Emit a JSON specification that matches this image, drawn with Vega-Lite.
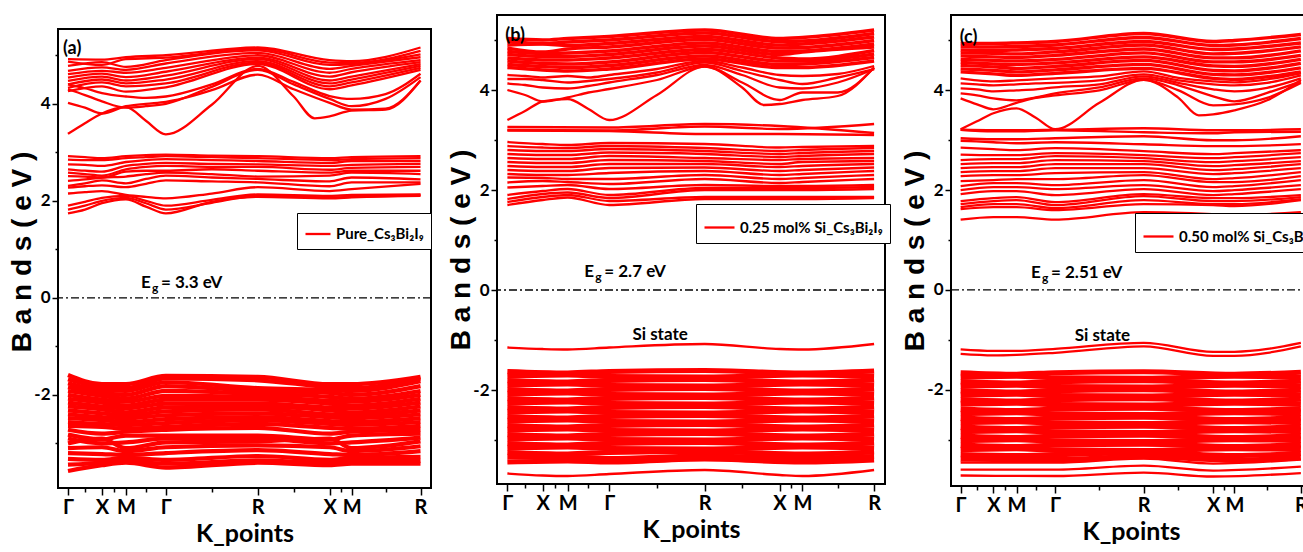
{"$schema":"https://vega.github.io/schema/vega-lite/v6.json","background":"white","padding":{"left":8,"top":14,"right":0,"bottom":0},"spacing":66,"bounds":"flush",
"config":{"view":{"stroke":"black","strokeWidth":2},"axis":{"grid":false,"domain":false,"tickColor":"black","tickWidth":1.5,"labelColor":"black","labelFont":"Lato","labelFontWeight":"bold","labelFontSize":17,"titleColor":"black","titleFontWeight":"bold","labelFlush":false,"labelOverlap":false},"text":{"font":"Lato","fontWeight":"bold","color":"black","baseline":"alphabetic"}},
"resolve":{"scale":{"color":"independent"},"legend":{"color":"independent"}},
"datasets":{
"a":[
{"b":1,"k":0,"e":4.92},{"b":1,"k":34,"e":4.91},{"b":1,"k":58,"e":4.96},{"b":1,"k":98,"e":5.0},{"b":1,"k":190,"e":5.16},{"b":1,"k":262,"e":4.9},{"b":1,"k":284,"e":4.88},{"b":1,"k":353,"e":5.16},
{"b":2,"k":0,"e":4.87},{"b":2,"k":34,"e":4.8},{"b":2,"k":58,"e":4.92},{"b":2,"k":98,"e":4.95},{"b":2,"k":190,"e":5.13},{"b":2,"k":262,"e":4.85},{"b":2,"k":284,"e":4.84},{"b":2,"k":353,"e":5.09},
{"b":3,"k":0,"e":4.78},{"b":3,"k":34,"e":4.86},{"b":3,"k":58,"e":4.76},{"b":3,"k":98,"e":4.9},{"b":3,"k":190,"e":5.1},{"b":3,"k":262,"e":4.8},{"b":3,"k":284,"e":4.82},{"b":3,"k":353,"e":5.02},
{"b":4,"k":0,"e":4.68},{"b":4,"k":34,"e":4.75},{"b":4,"k":58,"e":4.7},{"b":4,"k":98,"e":4.83},{"b":4,"k":190,"e":5.05},{"b":4,"k":262,"e":4.72},{"b":4,"k":284,"e":4.78},{"b":4,"k":353,"e":4.96},
{"b":5,"k":0,"e":4.61},{"b":5,"k":34,"e":4.68},{"b":5,"k":58,"e":4.64},{"b":5,"k":98,"e":4.74},{"b":5,"k":190,"e":5.0},{"b":5,"k":262,"e":4.64},{"b":5,"k":284,"e":4.72},{"b":5,"k":353,"e":4.9},
{"b":6,"k":0,"e":4.54},{"b":6,"k":34,"e":4.62},{"b":6,"k":58,"e":4.55},{"b":6,"k":98,"e":4.66},{"b":6,"k":190,"e":4.95},{"b":6,"k":262,"e":4.56},{"b":6,"k":284,"e":4.65},{"b":6,"k":353,"e":4.86},
{"b":7,"k":0,"e":4.47},{"b":7,"k":34,"e":4.56},{"b":7,"k":58,"e":4.48},{"b":7,"k":98,"e":4.58},{"b":7,"k":190,"e":4.92},{"b":7,"k":262,"e":4.48},{"b":7,"k":284,"e":4.56},{"b":7,"k":353,"e":4.82},
{"b":8,"k":0,"e":4.4},{"b":8,"k":34,"e":4.5},{"b":8,"k":58,"e":4.42},{"b":8,"k":98,"e":4.5},{"b":8,"k":190,"e":4.88},{"b":8,"k":262,"e":4.42},{"b":8,"k":284,"e":4.5},{"b":8,"k":353,"e":4.78},
{"b":9,"k":0,"e":4.33},{"b":9,"k":34,"e":4.44},{"b":9,"k":58,"e":4.36},{"b":9,"k":98,"e":4.42},{"b":9,"k":190,"e":4.85},{"b":9,"k":262,"e":4.36},{"b":9,"k":284,"e":4.44},{"b":9,"k":353,"e":4.74},
{"b":10,"k":0,"e":4.26},{"b":10,"k":34,"e":4.36},{"b":10,"k":58,"e":4.25},{"b":10,"k":98,"e":4.34},{"b":10,"k":190,"e":4.82},{"b":10,"k":262,"e":4.3},{"b":10,"k":284,"e":4.38},{"b":10,"k":353,"e":4.7},
{"b":11,"k":0,"e":3.38},{"b":11,"k":17,"e":3.6},{"b":11,"k":34,"e":3.8},{"b":11,"k":58,"e":3.93},{"b":11,"k":78,"e":3.65},{"b":11,"k":98,"e":3.37},{"b":11,"k":144,"e":3.98},{"b":11,"k":190,"e":4.78},{"b":11,"k":226,"e":4.15},{"b":11,"k":247,"e":3.7},{"b":11,"k":262,"e":3.74},{"b":11,"k":284,"e":3.86},{"b":11,"k":318,"e":3.88},{"b":11,"k":353,"e":4.48},
{"b":12,"k":0,"e":4.02},{"b":12,"k":17,"e":3.92},{"b":12,"k":34,"e":3.8},{"b":12,"k":58,"e":3.95},{"b":12,"k":78,"e":4.0},{"b":12,"k":98,"e":4.04},{"b":12,"k":144,"e":4.28},{"b":12,"k":190,"e":4.6},{"b":12,"k":226,"e":4.3},{"b":12,"k":262,"e":4.02},{"b":12,"k":284,"e":3.88},{"b":12,"k":318,"e":3.9},{"b":12,"k":353,"e":4.48},
{"b":13,"k":0,"e":4.3},{"b":13,"k":17,"e":4.18},{"b":13,"k":34,"e":4.05},{"b":13,"k":58,"e":3.92},{"b":13,"k":78,"e":3.95},{"b":13,"k":98,"e":4.0},{"b":13,"k":144,"e":4.35},{"b":13,"k":190,"e":4.7},{"b":13,"k":226,"e":4.4},{"b":13,"k":262,"e":4.1},{"b":13,"k":284,"e":3.95},{"b":13,"k":318,"e":4.1},{"b":13,"k":353,"e":4.55},
{"b":14,"k":0,"e":4.4},{"b":14,"k":17,"e":4.32},{"b":14,"k":34,"e":4.22},{"b":14,"k":58,"e":4.15},{"b":14,"k":78,"e":4.12},{"b":14,"k":98,"e":4.15},{"b":14,"k":144,"e":4.4},{"b":14,"k":190,"e":4.72},{"b":14,"k":226,"e":4.45},{"b":14,"k":262,"e":4.16},{"b":14,"k":284,"e":4.1},{"b":14,"k":318,"e":4.2},{"b":14,"k":353,"e":4.62},
{"b":21,"k":0,"e":1.74},{"b":21,"k":17,"e":1.82},{"b":21,"k":34,"e":1.95},{"b":21,"k":58,"e":2.03},{"b":21,"k":78,"e":1.88},{"b":21,"k":98,"e":1.74},{"b":21,"k":144,"e":1.98},{"b":21,"k":190,"e":2.08},{"b":21,"k":262,"e":2.05},{"b":21,"k":284,"e":2.07},{"b":21,"k":353,"e":2.12},
{"b":22,"k":0,"e":1.82},{"b":22,"k":17,"e":1.9},{"b":22,"k":34,"e":2.0},{"b":22,"k":58,"e":2.06},{"b":22,"k":78,"e":1.95},{"b":22,"k":98,"e":1.82},{"b":22,"k":144,"e":1.96},{"b":22,"k":190,"e":2.1},{"b":22,"k":262,"e":2.07},{"b":22,"k":284,"e":2.08},{"b":22,"k":353,"e":2.1},
{"b":23,"k":0,"e":1.9},{"b":23,"k":17,"e":1.98},{"b":23,"k":34,"e":2.06},{"b":23,"k":58,"e":2.1},{"b":23,"k":78,"e":2.0},{"b":23,"k":98,"e":1.9},{"b":23,"k":144,"e":2.02},{"b":23,"k":190,"e":2.13},{"b":23,"k":262,"e":2.1},{"b":23,"k":284,"e":2.12},{"b":23,"k":353,"e":2.13},
{"b":24,"k":0,"e":2.15},{"b":24,"k":17,"e":2.18},{"b":24,"k":34,"e":2.2},{"b":24,"k":58,"e":2.12},{"b":24,"k":78,"e":2.08},{"b":24,"k":98,"e":2.05},{"b":24,"k":144,"e":2.15},{"b":24,"k":190,"e":2.28},{"b":24,"k":262,"e":2.2},{"b":24,"k":284,"e":2.24},{"b":24,"k":353,"e":2.35},
{"b":25,"k":0,"e":2.27},{"b":25,"k":17,"e":2.3},{"b":25,"k":34,"e":2.32},{"b":25,"k":58,"e":2.28},{"b":25,"k":78,"e":2.35},{"b":25,"k":98,"e":2.42},{"b":25,"k":144,"e":2.4},{"b":25,"k":190,"e":2.38},{"b":25,"k":262,"e":2.3},{"b":25,"k":284,"e":2.38},{"b":25,"k":353,"e":2.38},
{"b":26,"k":0,"e":2.31},{"b":26,"k":17,"e":2.36},{"b":26,"k":34,"e":2.42},{"b":26,"k":58,"e":2.36},{"b":26,"k":78,"e":2.45},{"b":26,"k":98,"e":2.52},{"b":26,"k":144,"e":2.48},{"b":26,"k":190,"e":2.45},{"b":26,"k":262,"e":2.4},{"b":26,"k":284,"e":2.48},{"b":26,"k":353,"e":2.44},
{"b":27,"k":0,"e":2.41},{"b":27,"k":17,"e":2.44},{"b":27,"k":34,"e":2.48},{"b":27,"k":58,"e":2.5},{"b":27,"k":78,"e":2.55},{"b":27,"k":98,"e":2.58},{"b":27,"k":144,"e":2.55},{"b":27,"k":190,"e":2.5},{"b":27,"k":262,"e":2.52},{"b":27,"k":284,"e":2.58},{"b":27,"k":353,"e":2.55},
{"b":28,"k":0,"e":2.51},{"b":28,"k":17,"e":2.5},{"b":28,"k":34,"e":2.48},{"b":28,"k":58,"e":2.6},{"b":28,"k":78,"e":2.62},{"b":28,"k":98,"e":2.62},{"b":28,"k":144,"e":2.65},{"b":28,"k":190,"e":2.62},{"b":28,"k":262,"e":2.58},{"b":28,"k":284,"e":2.62},{"b":28,"k":353,"e":2.62},
{"b":29,"k":0,"e":2.58},{"b":29,"k":17,"e":2.55},{"b":29,"k":34,"e":2.52},{"b":29,"k":58,"e":2.65},{"b":29,"k":78,"e":2.7},{"b":29,"k":98,"e":2.72},{"b":29,"k":144,"e":2.7},{"b":29,"k":190,"e":2.7},{"b":29,"k":262,"e":2.64},{"b":29,"k":284,"e":2.68},{"b":29,"k":353,"e":2.7},
{"b":30,"k":0,"e":2.65},{"b":30,"k":17,"e":2.62},{"b":30,"k":34,"e":2.6},{"b":30,"k":58,"e":2.72},{"b":30,"k":78,"e":2.76},{"b":30,"k":98,"e":2.78},{"b":30,"k":144,"e":2.76},{"b":30,"k":190,"e":2.75},{"b":30,"k":262,"e":2.72},{"b":30,"k":284,"e":2.74},{"b":30,"k":353,"e":2.76},
{"b":31,"k":0,"e":2.75},{"b":31,"k":17,"e":2.74},{"b":31,"k":34,"e":2.72},{"b":31,"k":58,"e":2.8},{"b":31,"k":78,"e":2.84},{"b":31,"k":98,"e":2.86},{"b":31,"k":144,"e":2.84},{"b":31,"k":190,"e":2.82},{"b":31,"k":262,"e":2.78},{"b":31,"k":284,"e":2.82},{"b":31,"k":353,"e":2.82},
{"b":32,"k":0,"e":2.85},{"b":32,"k":17,"e":2.84},{"b":32,"k":34,"e":2.84},{"b":32,"k":58,"e":2.88},{"b":32,"k":78,"e":2.9},{"b":32,"k":98,"e":2.92},{"b":32,"k":144,"e":2.9},{"b":32,"k":190,"e":2.88},{"b":32,"k":262,"e":2.84},{"b":32,"k":284,"e":2.86},{"b":32,"k":353,"e":2.88},
{"b":33,"k":0,"e":2.92},{"b":33,"k":17,"e":2.9},{"b":33,"k":34,"e":2.88},{"b":33,"k":58,"e":2.92},{"b":33,"k":78,"e":2.94},{"b":33,"k":98,"e":2.95},{"b":33,"k":144,"e":2.93},{"b":33,"k":190,"e":2.92},{"b":33,"k":262,"e":2.88},{"b":33,"k":284,"e":2.9},{"b":33,"k":353,"e":2.92},
{"b":101,"k":0,"e":-1.59},{"b":101,"k":34,"e":-1.78},{"b":101,"k":58,"e":-1.78},{"b":101,"k":98,"e":-1.61},{"b":101,"k":190,"e":-1.63},{"b":101,"k":262,"e":-1.78},{"b":101,"k":284,"e":-1.78},{"b":101,"k":353,"e":-1.63},
{"b":102,"k":0,"e":-1.68},{"b":102,"k":34,"e":-1.84},{"b":102,"k":58,"e":-1.86},{"b":102,"k":98,"e":-1.66},{"b":102,"k":190,"e":-1.7},{"b":102,"k":262,"e":-1.84},{"b":102,"k":284,"e":-1.86},{"b":102,"k":353,"e":-1.66},
{"b":103,"k":0,"e":-1.76},{"b":103,"k":34,"e":-1.9},{"b":103,"k":58,"e":-1.92},{"b":103,"k":98,"e":-1.74},{"b":103,"k":190,"e":-1.86},{"b":103,"k":262,"e":-1.9},{"b":103,"k":284,"e":-1.92},{"b":103,"k":353,"e":-1.72},
{"b":104,"k":0,"e":-1.84},{"b":104,"k":34,"e":-1.96},{"b":104,"k":58,"e":-2.0},{"b":104,"k":98,"e":-1.82},{"b":104,"k":190,"e":-1.92},{"b":104,"k":262,"e":-1.96},{"b":104,"k":284,"e":-2.0},{"b":104,"k":353,"e":-1.82},
{"b":105,"k":0,"e":-1.92},{"b":105,"k":34,"e":-2.02},{"b":105,"k":58,"e":-2.08},{"b":105,"k":98,"e":-1.92},{"b":105,"k":190,"e":-1.98},{"b":105,"k":262,"e":-2.04},{"b":105,"k":284,"e":-2.08},{"b":105,"k":353,"e":-1.92},
{"b":106,"k":0,"e":-2.0},{"b":106,"k":34,"e":-2.1},{"b":106,"k":58,"e":-2.14},{"b":106,"k":98,"e":-2.02},{"b":106,"k":190,"e":-2.04},{"b":106,"k":262,"e":-2.12},{"b":106,"k":284,"e":-2.14},{"b":106,"k":353,"e":-2.0},
{"b":107,"k":0,"e":-2.08},{"b":107,"k":34,"e":-2.16},{"b":107,"k":58,"e":-2.22},{"b":107,"k":98,"e":-2.1},{"b":107,"k":190,"e":-2.1},{"b":107,"k":262,"e":-2.18},{"b":107,"k":284,"e":-2.22},{"b":107,"k":353,"e":-2.08},
{"b":108,"k":0,"e":-2.16},{"b":108,"k":34,"e":-2.24},{"b":108,"k":58,"e":-2.28},{"b":108,"k":98,"e":-2.18},{"b":108,"k":190,"e":-2.18},{"b":108,"k":262,"e":-2.26},{"b":108,"k":284,"e":-2.28},{"b":108,"k":353,"e":-2.16},
{"b":109,"k":0,"e":-2.24},{"b":109,"k":34,"e":-2.3},{"b":109,"k":58,"e":-2.36},{"b":109,"k":98,"e":-2.26},{"b":109,"k":190,"e":-2.24},{"b":109,"k":262,"e":-2.32},{"b":109,"k":284,"e":-2.36},{"b":109,"k":353,"e":-2.24},
{"b":110,"k":0,"e":-2.32},{"b":110,"k":34,"e":-2.38},{"b":110,"k":58,"e":-2.42},{"b":110,"k":98,"e":-2.34},{"b":110,"k":190,"e":-2.3},{"b":110,"k":262,"e":-2.4},{"b":110,"k":284,"e":-2.42},{"b":110,"k":353,"e":-2.32},
{"b":111,"k":0,"e":-2.4},{"b":111,"k":34,"e":-2.46},{"b":111,"k":58,"e":-2.48},{"b":111,"k":98,"e":-2.42},{"b":111,"k":190,"e":-2.38},{"b":111,"k":262,"e":-2.46},{"b":111,"k":284,"e":-2.48},{"b":111,"k":353,"e":-2.4},
{"b":112,"k":0,"e":-2.48},{"b":112,"k":34,"e":-2.52},{"b":112,"k":58,"e":-2.56},{"b":112,"k":98,"e":-2.5},{"b":112,"k":190,"e":-2.46},{"b":112,"k":262,"e":-2.54},{"b":112,"k":284,"e":-2.56},{"b":112,"k":353,"e":-2.48},
{"b":113,"k":0,"e":-2.56},{"b":113,"k":34,"e":-2.6},{"b":113,"k":58,"e":-2.62},{"b":113,"k":98,"e":-2.58},{"b":113,"k":190,"e":-2.52},{"b":113,"k":262,"e":-2.6},{"b":113,"k":284,"e":-2.62},{"b":113,"k":353,"e":-2.56},
{"b":114,"k":0,"e":-2.64},{"b":114,"k":34,"e":-2.66},{"b":114,"k":58,"e":-2.7},{"b":114,"k":98,"e":-2.66},{"b":114,"k":190,"e":-2.6},{"b":114,"k":262,"e":-2.68},{"b":114,"k":284,"e":-2.7},{"b":114,"k":353,"e":-2.64},
{"b":115,"k":0,"e":-2.72},{"b":115,"k":34,"e":-2.8},{"b":115,"k":58,"e":-2.76},{"b":115,"k":98,"e":-2.72},{"b":115,"k":190,"e":-2.68},{"b":115,"k":262,"e":-2.8},{"b":115,"k":284,"e":-2.76},{"b":115,"k":353,"e":-2.72},
{"b":116,"k":0,"e":-2.82},{"b":116,"k":34,"e":-2.92},{"b":116,"k":58,"e":-2.84},{"b":116,"k":98,"e":-2.84},{"b":116,"k":190,"e":-2.84},{"b":116,"k":262,"e":-2.92},{"b":116,"k":284,"e":-2.84},{"b":116,"k":353,"e":-2.8},
{"b":117,"k":0,"e":-2.9},{"b":117,"k":34,"e":-3.0},{"b":117,"k":58,"e":-2.98},{"b":117,"k":98,"e":-2.9},{"b":117,"k":190,"e":-2.9},{"b":117,"k":262,"e":-3.0},{"b":117,"k":284,"e":-2.98},{"b":117,"k":353,"e":-2.88},
{"b":118,"k":0,"e":-3.0},{"b":118,"k":34,"e":-2.9},{"b":118,"k":58,"e":-3.1},{"b":118,"k":98,"e":-2.98},{"b":118,"k":190,"e":-2.96},{"b":118,"k":262,"e":-2.9},{"b":118,"k":284,"e":-3.1},{"b":118,"k":353,"e":-2.96},
{"b":119,"k":0,"e":-3.1},{"b":119,"k":34,"e":-3.08},{"b":119,"k":58,"e":-3.16},{"b":119,"k":98,"e":-3.08},{"b":119,"k":190,"e":-3.04},{"b":119,"k":262,"e":-3.08},{"b":119,"k":284,"e":-3.16},{"b":119,"k":353,"e":-3.06},
{"b":120,"k":0,"e":-3.2},{"b":120,"k":34,"e":-3.22},{"b":120,"k":58,"e":-3.24},{"b":120,"k":98,"e":-3.2},{"b":120,"k":190,"e":-3.14},{"b":120,"k":262,"e":-3.22},{"b":120,"k":284,"e":-3.24},{"b":120,"k":353,"e":-3.16},
{"b":121,"k":0,"e":-3.32},{"b":121,"k":34,"e":-3.34},{"b":121,"k":58,"e":-3.3},{"b":121,"k":98,"e":-3.34},{"b":121,"k":190,"e":-3.26},{"b":121,"k":262,"e":-3.34},{"b":121,"k":284,"e":-3.3},{"b":121,"k":353,"e":-3.28},
{"b":122,"k":0,"e":-3.44},{"b":122,"k":34,"e":-3.4},{"b":122,"k":58,"e":-3.36},{"b":122,"k":98,"e":-3.42},{"b":122,"k":190,"e":-3.35},{"b":122,"k":262,"e":-3.4},{"b":122,"k":284,"e":-3.36},{"b":122,"k":353,"e":-3.36},
{"b":123,"k":0,"e":-3.57},{"b":123,"k":34,"e":-3.45},{"b":123,"k":58,"e":-3.4},{"b":123,"k":98,"e":-3.5},{"b":123,"k":190,"e":-3.4},{"b":123,"k":262,"e":-3.45},{"b":123,"k":284,"e":-3.42},{"b":123,"k":353,"e":-3.42}
],
"b":[
{"b":1,"k":0,"e":5.03},{"b":1,"k":34,"e":5.0},{"b":1,"k":58,"e":5.03},{"b":1,"k":98,"e":5.07},{"b":1,"k":190,"e":5.2},{"b":1,"k":262,"e":5.03},{"b":1,"k":284,"e":5.05},{"b":1,"k":353,"e":5.2},
{"b":2,"k":0,"e":4.97},{"b":2,"k":34,"e":4.93},{"b":2,"k":58,"e":4.96},{"b":2,"k":98,"e":5.0},{"b":2,"k":190,"e":5.14},{"b":2,"k":262,"e":4.97},{"b":2,"k":284,"e":4.98},{"b":2,"k":353,"e":5.13},
{"b":3,"k":0,"e":4.9},{"b":3,"k":34,"e":4.92},{"b":3,"k":58,"e":4.89},{"b":3,"k":98,"e":4.93},{"b":3,"k":190,"e":5.07},{"b":3,"k":262,"e":4.9},{"b":3,"k":284,"e":4.92},{"b":3,"k":353,"e":5.06},
{"b":4,"k":0,"e":4.84},{"b":4,"k":34,"e":4.76},{"b":4,"k":58,"e":4.82},{"b":4,"k":98,"e":4.86},{"b":4,"k":190,"e":5.01},{"b":4,"k":262,"e":4.84},{"b":4,"k":284,"e":4.85},{"b":4,"k":353,"e":4.99},
{"b":5,"k":0,"e":4.77},{"b":5,"k":34,"e":4.73},{"b":5,"k":58,"e":4.74},{"b":5,"k":98,"e":4.78},{"b":5,"k":190,"e":4.94},{"b":5,"k":262,"e":4.77},{"b":5,"k":284,"e":4.78},{"b":5,"k":353,"e":4.92},
{"b":6,"k":0,"e":4.71},{"b":6,"k":34,"e":4.67},{"b":6,"k":58,"e":4.67},{"b":6,"k":98,"e":4.71},{"b":6,"k":190,"e":4.88},{"b":6,"k":262,"e":4.71},{"b":6,"k":284,"e":4.76},{"b":6,"k":353,"e":4.86},
{"b":7,"k":0,"e":4.64},{"b":7,"k":34,"e":4.6},{"b":7,"k":58,"e":4.6},{"b":7,"k":98,"e":4.64},{"b":7,"k":190,"e":4.81},{"b":7,"k":262,"e":4.64},{"b":7,"k":284,"e":4.62},{"b":7,"k":353,"e":4.79},
{"b":8,"k":0,"e":4.58},{"b":8,"k":34,"e":4.53},{"b":8,"k":58,"e":4.52},{"b":8,"k":98,"e":4.56},{"b":8,"k":190,"e":4.75},{"b":8,"k":262,"e":4.58},{"b":8,"k":284,"e":4.58},{"b":8,"k":353,"e":4.72},
{"b":9,"k":0,"e":4.51},{"b":9,"k":34,"e":4.47},{"b":9,"k":58,"e":4.45},{"b":9,"k":98,"e":4.49},{"b":9,"k":190,"e":4.68},{"b":9,"k":262,"e":4.51},{"b":9,"k":284,"e":4.52},{"b":9,"k":353,"e":4.65},
{"b":10,"k":0,"e":4.45},{"b":10,"k":34,"e":4.4},{"b":10,"k":58,"e":4.38},{"b":10,"k":98,"e":4.42},{"b":10,"k":190,"e":4.62},{"b":10,"k":262,"e":4.45},{"b":10,"k":284,"e":4.45},{"b":10,"k":353,"e":4.58},
{"b":11,"k":0,"e":3.4},{"b":11,"k":17,"e":3.58},{"b":11,"k":34,"e":3.77},{"b":11,"k":58,"e":3.82},{"b":11,"k":78,"e":3.62},{"b":11,"k":98,"e":3.4},{"b":11,"k":144,"e":3.9},{"b":11,"k":190,"e":4.47},{"b":11,"k":226,"e":4.05},{"b":11,"k":247,"e":3.7},{"b":11,"k":262,"e":3.72},{"b":11,"k":284,"e":3.8},{"b":11,"k":318,"e":3.88},{"b":11,"k":353,"e":4.45},
{"b":12,"k":0,"e":4.0},{"b":12,"k":17,"e":3.9},{"b":12,"k":34,"e":3.77},{"b":12,"k":58,"e":3.85},{"b":12,"k":78,"e":3.95},{"b":12,"k":98,"e":4.02},{"b":12,"k":144,"e":4.2},{"b":12,"k":190,"e":4.47},{"b":12,"k":226,"e":4.15},{"b":12,"k":262,"e":3.8},{"b":12,"k":284,"e":3.95},{"b":12,"k":318,"e":3.95},{"b":12,"k":353,"e":4.45},
{"b":13,"k":0,"e":4.13},{"b":13,"k":17,"e":4.1},{"b":13,"k":34,"e":4.05},{"b":13,"k":58,"e":4.03},{"b":13,"k":78,"e":4.08},{"b":13,"k":98,"e":4.15},{"b":13,"k":144,"e":4.3},{"b":13,"k":190,"e":4.5},{"b":13,"k":226,"e":4.3},{"b":13,"k":262,"e":4.05},{"b":13,"k":284,"e":4.03},{"b":13,"k":318,"e":4.15},{"b":13,"k":353,"e":4.42},
{"b":14,"k":0,"e":4.22},{"b":14,"k":17,"e":4.22},{"b":14,"k":34,"e":4.2},{"b":14,"k":58,"e":4.15},{"b":14,"k":78,"e":4.18},{"b":14,"k":98,"e":4.22},{"b":14,"k":144,"e":4.35},{"b":14,"k":190,"e":4.55},{"b":14,"k":226,"e":4.38},{"b":14,"k":262,"e":4.2},{"b":14,"k":284,"e":4.12},{"b":14,"k":318,"e":4.25},{"b":14,"k":353,"e":4.42},
{"b":15,"k":0,"e":4.3},{"b":15,"k":17,"e":4.28},{"b":15,"k":34,"e":4.25},{"b":15,"k":58,"e":4.28},{"b":15,"k":78,"e":4.25},{"b":15,"k":98,"e":4.3},{"b":15,"k":144,"e":4.42},{"b":15,"k":190,"e":4.58},{"b":15,"k":226,"e":4.45},{"b":15,"k":262,"e":4.3},{"b":15,"k":284,"e":4.28},{"b":15,"k":318,"e":4.32},{"b":15,"k":353,"e":4.48},
{"b":16,"k":0,"e":3.26},{"b":16,"k":98,"e":3.25},{"b":16,"k":190,"e":3.32},{"b":16,"k":262,"e":3.28},{"b":16,"k":353,"e":3.14},
{"b":17,"k":0,"e":3.2},{"b":17,"k":98,"e":3.19},{"b":17,"k":190,"e":3.27},{"b":17,"k":262,"e":3.22},{"b":17,"k":353,"e":3.32},
{"b":18,"k":0,"e":3.19},{"b":18,"k":98,"e":3.18},{"b":18,"k":190,"e":3.12},{"b":18,"k":262,"e":3.12},{"b":18,"k":353,"e":3.1},
{"b":21,"k":0,"e":1.7},{"b":21,"k":34,"e":1.8},{"b":21,"k":58,"e":1.85},{"b":21,"k":98,"e":1.7},{"b":21,"k":190,"e":1.82},{"b":21,"k":262,"e":1.82},{"b":21,"k":284,"e":1.82},{"b":21,"k":353,"e":1.84},
{"b":22,"k":0,"e":1.76},{"b":22,"k":34,"e":1.86},{"b":22,"k":58,"e":1.9},{"b":22,"k":98,"e":1.78},{"b":22,"k":190,"e":1.86},{"b":22,"k":262,"e":1.86},{"b":22,"k":284,"e":1.86},{"b":22,"k":353,"e":1.86},
{"b":23,"k":0,"e":1.82},{"b":23,"k":34,"e":1.92},{"b":23,"k":58,"e":1.95},{"b":23,"k":98,"e":1.84},{"b":23,"k":190,"e":2.0},{"b":23,"k":262,"e":2.0},{"b":23,"k":284,"e":2.0},{"b":23,"k":353,"e":2.02},
{"b":24,"k":0,"e":1.9},{"b":24,"k":34,"e":1.98},{"b":24,"k":58,"e":2.02},{"b":24,"k":98,"e":1.9},{"b":24,"k":190,"e":2.04},{"b":24,"k":262,"e":2.04},{"b":24,"k":284,"e":2.04},{"b":24,"k":353,"e":2.06},
{"b":25,"k":0,"e":2.05},{"b":25,"k":34,"e":2.08},{"b":25,"k":58,"e":2.1},{"b":25,"k":98,"e":2.02},{"b":25,"k":190,"e":2.1},{"b":25,"k":262,"e":2.08},{"b":25,"k":284,"e":2.08},{"b":25,"k":353,"e":2.1},
{"b":26,"k":0,"e":2.15},{"b":26,"k":34,"e":2.18},{"b":26,"k":58,"e":2.16},{"b":26,"k":98,"e":2.12},{"b":26,"k":190,"e":2.22},{"b":26,"k":262,"e":2.14},{"b":26,"k":284,"e":2.16},{"b":26,"k":353,"e":2.22},
{"b":27,"k":0,"e":2.25},{"b":27,"k":34,"e":2.24},{"b":27,"k":58,"e":2.22},{"b":27,"k":98,"e":2.22},{"b":27,"k":190,"e":2.3},{"b":27,"k":262,"e":2.22},{"b":27,"k":284,"e":2.24},{"b":27,"k":353,"e":2.3},
{"b":28,"k":0,"e":2.32},{"b":28,"k":34,"e":2.3},{"b":28,"k":58,"e":2.3},{"b":28,"k":98,"e":2.34},{"b":28,"k":190,"e":2.38},{"b":28,"k":262,"e":2.3},{"b":28,"k":284,"e":2.32},{"b":28,"k":353,"e":2.38},
{"b":29,"k":0,"e":2.4},{"b":29,"k":34,"e":2.38},{"b":29,"k":58,"e":2.38},{"b":29,"k":98,"e":2.44},{"b":29,"k":190,"e":2.45},{"b":29,"k":262,"e":2.38},{"b":29,"k":284,"e":2.4},{"b":29,"k":353,"e":2.45},
{"b":30,"k":0,"e":2.48},{"b":30,"k":34,"e":2.46},{"b":30,"k":58,"e":2.46},{"b":30,"k":98,"e":2.52},{"b":30,"k":190,"e":2.52},{"b":30,"k":262,"e":2.46},{"b":30,"k":284,"e":2.48},{"b":30,"k":353,"e":2.52},
{"b":31,"k":0,"e":2.56},{"b":31,"k":34,"e":2.54},{"b":31,"k":58,"e":2.54},{"b":31,"k":98,"e":2.6},{"b":31,"k":190,"e":2.58},{"b":31,"k":262,"e":2.52},{"b":31,"k":284,"e":2.56},{"b":31,"k":353,"e":2.58},
{"b":32,"k":0,"e":2.64},{"b":32,"k":34,"e":2.62},{"b":32,"k":58,"e":2.62},{"b":32,"k":98,"e":2.68},{"b":32,"k":190,"e":2.64},{"b":32,"k":262,"e":2.6},{"b":32,"k":284,"e":2.62},{"b":32,"k":353,"e":2.64},
{"b":33,"k":0,"e":2.72},{"b":33,"k":34,"e":2.7},{"b":33,"k":58,"e":2.7},{"b":33,"k":98,"e":2.75},{"b":33,"k":190,"e":2.72},{"b":33,"k":262,"e":2.66},{"b":33,"k":284,"e":2.68},{"b":33,"k":353,"e":2.72},
{"b":34,"k":0,"e":2.8},{"b":34,"k":34,"e":2.78},{"b":34,"k":58,"e":2.78},{"b":34,"k":98,"e":2.82},{"b":34,"k":190,"e":2.78},{"b":34,"k":262,"e":2.72},{"b":34,"k":284,"e":2.74},{"b":34,"k":353,"e":2.78},
{"b":35,"k":0,"e":2.88},{"b":35,"k":34,"e":2.85},{"b":35,"k":58,"e":2.84},{"b":35,"k":98,"e":2.88},{"b":35,"k":190,"e":2.84},{"b":35,"k":262,"e":2.78},{"b":35,"k":284,"e":2.8},{"b":35,"k":353,"e":2.84},
{"b":36,"k":0,"e":2.96},{"b":36,"k":34,"e":2.92},{"b":36,"k":58,"e":2.9},{"b":36,"k":98,"e":2.94},{"b":36,"k":190,"e":2.92},{"b":36,"k":262,"e":2.85},{"b":36,"k":284,"e":2.86},{"b":36,"k":353,"e":2.88},
{"b":40,"k":0,"e":-1.15},{"b":40,"k":34,"e":-1.18},{"b":40,"k":58,"e":-1.19},{"b":40,"k":98,"e":-1.15},{"b":40,"k":190,"e":-1.08},{"b":40,"k":262,"e":-1.18},{"b":40,"k":284,"e":-1.19},{"b":40,"k":353,"e":-1.08},
{"b":41,"k":0,"e":-3.67},{"b":41,"k":34,"e":-3.71},{"b":41,"k":58,"e":-3.72},{"b":41,"k":98,"e":-3.68},{"b":41,"k":190,"e":-3.6},{"b":41,"k":262,"e":-3.7},{"b":41,"k":284,"e":-3.72},{"b":41,"k":353,"e":-3.6},
{"b":101,"k":0,"e":-1.63},{"b":101,"k":58,"e":-1.66},{"b":101,"k":98,"e":-1.63},{"b":101,"k":190,"e":-1.61},{"b":101,"k":284,"e":-1.66},{"b":101,"k":353,"e":-1.62},
{"b":102,"k":0,"e":-1.72},{"b":102,"k":58,"e":-1.7},{"b":102,"k":98,"e":-1.73},{"b":102,"k":190,"e":-1.74},{"b":102,"k":284,"e":-1.7},{"b":102,"k":353,"e":-1.72},
{"b":103,"k":0,"e":-1.81},{"b":103,"k":58,"e":-1.84},{"b":103,"k":98,"e":-1.81},{"b":103,"k":190,"e":-1.79},{"b":103,"k":284,"e":-1.84},{"b":103,"k":353,"e":-1.8},
{"b":104,"k":0,"e":-1.9},{"b":104,"k":58,"e":-1.88},{"b":104,"k":98,"e":-1.91},{"b":104,"k":190,"e":-1.92},{"b":104,"k":284,"e":-1.88},{"b":104,"k":353,"e":-1.9},
{"b":105,"k":0,"e":-1.99},{"b":105,"k":58,"e":-2.02},{"b":105,"k":98,"e":-1.99},{"b":105,"k":190,"e":-1.97},{"b":105,"k":284,"e":-2.02},{"b":105,"k":353,"e":-1.98},
{"b":106,"k":0,"e":-2.08},{"b":106,"k":58,"e":-2.06},{"b":106,"k":98,"e":-2.09},{"b":106,"k":190,"e":-2.1},{"b":106,"k":284,"e":-2.06},{"b":106,"k":353,"e":-2.08},
{"b":107,"k":0,"e":-2.17},{"b":107,"k":58,"e":-2.2},{"b":107,"k":98,"e":-2.17},{"b":107,"k":190,"e":-2.15},{"b":107,"k":284,"e":-2.2},{"b":107,"k":353,"e":-2.16},
{"b":108,"k":0,"e":-2.26},{"b":108,"k":58,"e":-2.24},{"b":108,"k":98,"e":-2.27},{"b":108,"k":190,"e":-2.28},{"b":108,"k":284,"e":-2.24},{"b":108,"k":353,"e":-2.26},
{"b":109,"k":0,"e":-2.35},{"b":109,"k":58,"e":-2.38},{"b":109,"k":98,"e":-2.35},{"b":109,"k":190,"e":-2.33},{"b":109,"k":284,"e":-2.38},{"b":109,"k":353,"e":-2.34},
{"b":110,"k":0,"e":-2.44},{"b":110,"k":58,"e":-2.42},{"b":110,"k":98,"e":-2.45},{"b":110,"k":190,"e":-2.46},{"b":110,"k":284,"e":-2.42},{"b":110,"k":353,"e":-2.44},
{"b":111,"k":0,"e":-2.53},{"b":111,"k":58,"e":-2.56},{"b":111,"k":98,"e":-2.53},{"b":111,"k":190,"e":-2.51},{"b":111,"k":284,"e":-2.56},{"b":111,"k":353,"e":-2.52},
{"b":112,"k":0,"e":-2.62},{"b":112,"k":58,"e":-2.6},{"b":112,"k":98,"e":-2.63},{"b":112,"k":190,"e":-2.64},{"b":112,"k":284,"e":-2.6},{"b":112,"k":353,"e":-2.62},
{"b":113,"k":0,"e":-2.71},{"b":113,"k":58,"e":-2.74},{"b":113,"k":98,"e":-2.71},{"b":113,"k":190,"e":-2.69},{"b":113,"k":284,"e":-2.74},{"b":113,"k":353,"e":-2.7},
{"b":114,"k":0,"e":-2.8},{"b":114,"k":58,"e":-2.78},{"b":114,"k":98,"e":-2.81},{"b":114,"k":190,"e":-2.82},{"b":114,"k":284,"e":-2.78},{"b":114,"k":353,"e":-2.8},
{"b":115,"k":0,"e":-2.89},{"b":115,"k":58,"e":-2.92},{"b":115,"k":98,"e":-2.89},{"b":115,"k":190,"e":-2.87},{"b":115,"k":284,"e":-2.92},{"b":115,"k":353,"e":-2.88},
{"b":116,"k":0,"e":-2.98},{"b":116,"k":58,"e":-2.96},{"b":116,"k":98,"e":-2.99},{"b":116,"k":190,"e":-3.0},{"b":116,"k":284,"e":-2.96},{"b":116,"k":353,"e":-2.98},
{"b":117,"k":0,"e":-3.07},{"b":117,"k":58,"e":-3.1},{"b":117,"k":98,"e":-3.07},{"b":117,"k":190,"e":-3.05},{"b":117,"k":284,"e":-3.1},{"b":117,"k":353,"e":-3.06},
{"b":118,"k":0,"e":-3.16},{"b":118,"k":58,"e":-3.14},{"b":118,"k":98,"e":-3.17},{"b":118,"k":190,"e":-3.18},{"b":118,"k":284,"e":-3.14},{"b":118,"k":353,"e":-3.16},
{"b":119,"k":0,"e":-3.25},{"b":119,"k":58,"e":-3.28},{"b":119,"k":98,"e":-3.25},{"b":119,"k":190,"e":-3.23},{"b":119,"k":284,"e":-3.28},{"b":119,"k":353,"e":-3.24},
{"b":120,"k":0,"e":-3.34},{"b":120,"k":58,"e":-3.34},{"b":120,"k":98,"e":-3.37},{"b":120,"k":190,"e":-3.32},{"b":120,"k":284,"e":-3.36},{"b":120,"k":353,"e":-3.33},
{"b":121,"k":0,"e":-3.44},{"b":121,"k":58,"e":-3.42},{"b":121,"k":98,"e":-3.44},{"b":121,"k":190,"e":-3.38},{"b":121,"k":284,"e":-3.44},{"b":121,"k":353,"e":-3.4}
],
"c":[
{"b":1,"k":0,"e":4.94},{"b":1,"k":34,"e":4.94},{"b":1,"k":58,"e":4.95},{"b":1,"k":98,"e":4.98},{"b":1,"k":190,"e":5.14},{"b":1,"k":262,"e":4.98},{"b":1,"k":284,"e":5.0},{"b":1,"k":353,"e":5.12},
{"b":2,"k":0,"e":4.88},{"b":2,"k":34,"e":4.87},{"b":2,"k":58,"e":4.88},{"b":2,"k":98,"e":4.91},{"b":2,"k":190,"e":5.06},{"b":2,"k":262,"e":4.9},{"b":2,"k":284,"e":4.91},{"b":2,"k":353,"e":5.04},
{"b":3,"k":0,"e":4.81},{"b":3,"k":34,"e":4.8},{"b":3,"k":58,"e":4.81},{"b":3,"k":98,"e":4.84},{"b":3,"k":190,"e":4.98},{"b":3,"k":262,"e":4.82},{"b":3,"k":284,"e":4.83},{"b":3,"k":353,"e":4.95},
{"b":4,"k":0,"e":4.75},{"b":4,"k":34,"e":4.74},{"b":4,"k":58,"e":4.73},{"b":4,"k":98,"e":4.77},{"b":4,"k":190,"e":4.91},{"b":4,"k":262,"e":4.73},{"b":4,"k":284,"e":4.74},{"b":4,"k":353,"e":4.87},
{"b":5,"k":0,"e":4.69},{"b":5,"k":34,"e":4.67},{"b":5,"k":58,"e":4.66},{"b":5,"k":98,"e":4.7},{"b":5,"k":190,"e":4.83},{"b":5,"k":262,"e":4.65},{"b":5,"k":284,"e":4.65},{"b":5,"k":353,"e":4.79},
{"b":6,"k":0,"e":4.62},{"b":6,"k":34,"e":4.6},{"b":6,"k":58,"e":4.59},{"b":6,"k":98,"e":4.62},{"b":6,"k":190,"e":4.75},{"b":6,"k":262,"e":4.57},{"b":6,"k":284,"e":4.57},{"b":6,"k":353,"e":4.7},
{"b":7,"k":0,"e":4.56},{"b":7,"k":34,"e":4.53},{"b":7,"k":58,"e":4.52},{"b":7,"k":98,"e":4.55},{"b":7,"k":190,"e":4.67},{"b":7,"k":262,"e":4.49},{"b":7,"k":284,"e":4.48},{"b":7,"k":353,"e":4.62},
{"b":8,"k":0,"e":4.5},{"b":8,"k":34,"e":4.47},{"b":8,"k":58,"e":4.44},{"b":8,"k":98,"e":4.48},{"b":8,"k":190,"e":4.6},{"b":8,"k":262,"e":4.4},{"b":8,"k":284,"e":4.39},{"b":8,"k":353,"e":4.54},
{"b":9,"k":0,"e":4.43},{"b":9,"k":34,"e":4.4},{"b":9,"k":58,"e":4.37},{"b":9,"k":98,"e":4.41},{"b":9,"k":190,"e":4.52},{"b":9,"k":262,"e":4.32},{"b":9,"k":284,"e":4.31},{"b":9,"k":353,"e":4.45},
{"b":10,"k":0,"e":4.37},{"b":10,"k":34,"e":4.33},{"b":10,"k":58,"e":4.3},{"b":10,"k":98,"e":4.34},{"b":10,"k":190,"e":4.44},{"b":10,"k":262,"e":4.24},{"b":10,"k":284,"e":4.22},{"b":10,"k":353,"e":4.37},
{"b":11,"k":0,"e":3.22},{"b":11,"k":17,"e":3.38},{"b":11,"k":34,"e":3.54},{"b":11,"k":58,"e":3.64},{"b":11,"k":78,"e":3.45},{"b":11,"k":98,"e":3.22},{"b":11,"k":144,"e":3.75},{"b":11,"k":190,"e":4.21},{"b":11,"k":226,"e":3.85},{"b":11,"k":247,"e":3.5},{"b":11,"k":262,"e":3.52},{"b":11,"k":284,"e":3.6},{"b":11,"k":318,"e":3.8},{"b":11,"k":353,"e":4.21},
{"b":12,"k":0,"e":3.84},{"b":12,"k":17,"e":3.72},{"b":12,"k":34,"e":3.62},{"b":12,"k":58,"e":3.75},{"b":12,"k":78,"e":3.85},{"b":12,"k":98,"e":3.9},{"b":12,"k":144,"e":4.0},{"b":12,"k":190,"e":4.21},{"b":12,"k":226,"e":4.0},{"b":12,"k":262,"e":3.7},{"b":12,"k":284,"e":3.72},{"b":12,"k":318,"e":3.85},{"b":12,"k":353,"e":4.15},
{"b":13,"k":0,"e":3.94},{"b":13,"k":17,"e":3.9},{"b":13,"k":34,"e":3.84},{"b":13,"k":58,"e":3.8},{"b":13,"k":78,"e":3.86},{"b":13,"k":98,"e":3.94},{"b":13,"k":144,"e":4.06},{"b":13,"k":190,"e":4.24},{"b":13,"k":226,"e":4.1},{"b":13,"k":262,"e":3.88},{"b":13,"k":284,"e":3.78},{"b":13,"k":318,"e":3.95},{"b":13,"k":353,"e":4.18},
{"b":14,"k":0,"e":4.04},{"b":14,"k":17,"e":4.02},{"b":14,"k":34,"e":3.98},{"b":14,"k":58,"e":4.0},{"b":14,"k":78,"e":4.02},{"b":14,"k":98,"e":4.06},{"b":14,"k":144,"e":4.12},{"b":14,"k":190,"e":4.28},{"b":14,"k":226,"e":4.15},{"b":14,"k":262,"e":4.02},{"b":14,"k":284,"e":3.98},{"b":14,"k":318,"e":4.05},{"b":14,"k":353,"e":4.24},
{"b":15,"k":0,"e":4.14},{"b":15,"k":17,"e":4.12},{"b":15,"k":34,"e":4.1},{"b":15,"k":58,"e":4.12},{"b":15,"k":78,"e":4.14},{"b":15,"k":98,"e":4.15},{"b":15,"k":144,"e":4.2},{"b":15,"k":190,"e":4.32},{"b":15,"k":226,"e":4.2},{"b":15,"k":262,"e":4.12},{"b":15,"k":284,"e":4.1},{"b":15,"k":318,"e":4.15},{"b":15,"k":353,"e":4.3},
{"b":16,"k":0,"e":4.24},{"b":16,"k":17,"e":4.2},{"b":16,"k":34,"e":4.18},{"b":16,"k":58,"e":4.2},{"b":16,"k":78,"e":4.22},{"b":16,"k":98,"e":4.24},{"b":16,"k":144,"e":4.28},{"b":16,"k":190,"e":4.38},{"b":16,"k":226,"e":4.25},{"b":16,"k":262,"e":4.18},{"b":16,"k":284,"e":4.16},{"b":16,"k":318,"e":4.22},{"b":16,"k":353,"e":4.34},
{"b":20,"k":0,"e":1.41},{"b":20,"k":34,"e":1.46},{"b":20,"k":58,"e":1.46},{"b":20,"k":98,"e":1.41},{"b":20,"k":190,"e":1.56},{"b":20,"k":262,"e":1.52},{"b":20,"k":284,"e":1.5},{"b":20,"k":353,"e":1.56},
{"b":21,"k":0,"e":1.62},{"b":21,"k":34,"e":1.66},{"b":21,"k":58,"e":1.66},{"b":21,"k":98,"e":1.6},{"b":21,"k":190,"e":1.72},{"b":21,"k":262,"e":1.7},{"b":21,"k":284,"e":1.68},{"b":21,"k":353,"e":1.8},
{"b":22,"k":0,"e":1.66},{"b":22,"k":34,"e":1.72},{"b":22,"k":58,"e":1.72},{"b":22,"k":98,"e":1.64},{"b":22,"k":190,"e":1.8},{"b":22,"k":262,"e":1.72},{"b":22,"k":284,"e":1.72},{"b":22,"k":353,"e":1.82},
{"b":23,"k":0,"e":1.72},{"b":23,"k":34,"e":1.78},{"b":23,"k":58,"e":1.8},{"b":23,"k":98,"e":1.7},{"b":23,"k":190,"e":1.88},{"b":23,"k":262,"e":1.78},{"b":23,"k":284,"e":1.78},{"b":23,"k":353,"e":1.86},
{"b":24,"k":0,"e":1.78},{"b":24,"k":34,"e":1.84},{"b":24,"k":58,"e":1.86},{"b":24,"k":98,"e":1.76},{"b":24,"k":190,"e":1.92},{"b":24,"k":262,"e":1.84},{"b":24,"k":284,"e":1.84},{"b":24,"k":353,"e":1.9},
{"b":25,"k":0,"e":1.92},{"b":25,"k":34,"e":1.98},{"b":25,"k":58,"e":1.98},{"b":25,"k":98,"e":1.9},{"b":25,"k":190,"e":2.02},{"b":25,"k":262,"e":1.9},{"b":25,"k":284,"e":1.92},{"b":25,"k":353,"e":2.02},
{"b":26,"k":0,"e":2.0},{"b":26,"k":34,"e":2.06},{"b":26,"k":58,"e":2.06},{"b":26,"k":98,"e":2.02},{"b":26,"k":190,"e":2.1},{"b":26,"k":262,"e":1.98},{"b":26,"k":284,"e":2.0},{"b":26,"k":353,"e":2.1},
{"b":27,"k":0,"e":2.08},{"b":27,"k":34,"e":2.14},{"b":27,"k":58,"e":2.14},{"b":27,"k":98,"e":2.1},{"b":27,"k":190,"e":2.2},{"b":27,"k":262,"e":2.06},{"b":27,"k":284,"e":2.08},{"b":27,"k":353,"e":2.2},
{"b":28,"k":0,"e":2.18},{"b":28,"k":34,"e":2.2},{"b":28,"k":58,"e":2.22},{"b":28,"k":98,"e":2.22},{"b":28,"k":190,"e":2.3},{"b":28,"k":262,"e":2.16},{"b":28,"k":284,"e":2.16},{"b":28,"k":353,"e":2.28},
{"b":29,"k":0,"e":2.28},{"b":29,"k":34,"e":2.3},{"b":29,"k":58,"e":2.3},{"b":29,"k":98,"e":2.34},{"b":29,"k":190,"e":2.36},{"b":29,"k":262,"e":2.22},{"b":29,"k":284,"e":2.24},{"b":29,"k":353,"e":2.36},
{"b":30,"k":0,"e":2.36},{"b":30,"k":34,"e":2.38},{"b":30,"k":58,"e":2.38},{"b":30,"k":98,"e":2.44},{"b":30,"k":190,"e":2.44},{"b":30,"k":262,"e":2.32},{"b":30,"k":284,"e":2.34},{"b":30,"k":353,"e":2.44},
{"b":31,"k":0,"e":2.44},{"b":31,"k":34,"e":2.46},{"b":31,"k":58,"e":2.46},{"b":31,"k":98,"e":2.52},{"b":31,"k":190,"e":2.52},{"b":31,"k":262,"e":2.4},{"b":31,"k":284,"e":2.42},{"b":31,"k":353,"e":2.52},
{"b":32,"k":0,"e":2.52},{"b":32,"k":34,"e":2.54},{"b":32,"k":58,"e":2.54},{"b":32,"k":98,"e":2.6},{"b":32,"k":190,"e":2.58},{"b":32,"k":262,"e":2.48},{"b":32,"k":284,"e":2.5},{"b":32,"k":353,"e":2.58},
{"b":33,"k":0,"e":2.6},{"b":33,"k":34,"e":2.62},{"b":33,"k":58,"e":2.62},{"b":33,"k":98,"e":2.68},{"b":33,"k":190,"e":2.64},{"b":33,"k":262,"e":2.56},{"b":33,"k":284,"e":2.58},{"b":33,"k":353,"e":2.66},
{"b":34,"k":0,"e":2.71},{"b":34,"k":34,"e":2.7},{"b":34,"k":58,"e":2.7},{"b":34,"k":98,"e":2.74},{"b":34,"k":190,"e":2.7},{"b":34,"k":262,"e":2.64},{"b":34,"k":284,"e":2.66},{"b":34,"k":353,"e":2.74},
{"b":35,"k":0,"e":2.85},{"b":35,"k":34,"e":2.82},{"b":35,"k":58,"e":2.8},{"b":35,"k":98,"e":2.84},{"b":35,"k":190,"e":2.78},{"b":35,"k":262,"e":2.72},{"b":35,"k":284,"e":2.74},{"b":35,"k":353,"e":2.8},
{"b":36,"k":0,"e":2.99},{"b":36,"k":34,"e":2.96},{"b":36,"k":58,"e":2.94},{"b":36,"k":98,"e":2.96},{"b":36,"k":190,"e":2.92},{"b":36,"k":262,"e":2.88},{"b":36,"k":284,"e":2.88},{"b":36,"k":353,"e":2.92},
{"b":37,"k":0,"e":3.04},{"b":37,"k":34,"e":3.02},{"b":37,"k":58,"e":3.02},{"b":37,"k":98,"e":3.04},{"b":37,"k":190,"e":3.08},{"b":37,"k":262,"e":3.0},{"b":37,"k":284,"e":3.0},{"b":37,"k":353,"e":3.08},
{"b":38,"k":0,"e":3.21},{"b":38,"k":34,"e":3.2},{"b":38,"k":58,"e":3.2},{"b":38,"k":98,"e":3.21},{"b":38,"k":190,"e":3.24},{"b":38,"k":262,"e":3.2},{"b":38,"k":284,"e":3.2},{"b":38,"k":353,"e":3.22},
{"b":39,"k":0,"e":3.21},{"b":39,"k":34,"e":3.18},{"b":39,"k":58,"e":3.18},{"b":39,"k":98,"e":3.2},{"b":39,"k":190,"e":3.16},{"b":39,"k":262,"e":3.14},{"b":39,"k":284,"e":3.16},{"b":39,"k":353,"e":3.17},
{"b":41,"k":0,"e":-1.19},{"b":41,"k":34,"e":-1.22},{"b":41,"k":58,"e":-1.22},{"b":41,"k":98,"e":-1.18},{"b":41,"k":190,"e":-1.06},{"b":41,"k":262,"e":-1.24},{"b":41,"k":284,"e":-1.24},{"b":41,"k":353,"e":-1.06},
{"b":42,"k":0,"e":-1.28},{"b":42,"k":34,"e":-1.31},{"b":42,"k":58,"e":-1.3},{"b":42,"k":98,"e":-1.26},{"b":42,"k":190,"e":-1.13},{"b":42,"k":262,"e":-1.32},{"b":42,"k":284,"e":-1.32},{"b":42,"k":353,"e":-1.13},
{"b":43,"k":0,"e":-3.46},{"b":43,"k":98,"e":-3.46},{"b":43,"k":190,"e":-3.38},{"b":43,"k":262,"e":-3.48},{"b":43,"k":353,"e":-3.4},
{"b":44,"k":0,"e":-3.6},{"b":44,"k":98,"e":-3.6},{"b":44,"k":190,"e":-3.52},{"b":44,"k":262,"e":-3.62},{"b":44,"k":353,"e":-3.54},
{"b":45,"k":0,"e":-3.72},{"b":45,"k":98,"e":-3.73},{"b":45,"k":190,"e":-3.66},{"b":45,"k":262,"e":-3.74},{"b":45,"k":353,"e":-3.67},
{"b":101,"k":0,"e":-1.66},{"b":101,"k":58,"e":-1.69},{"b":101,"k":98,"e":-1.66},{"b":101,"k":190,"e":-1.64},{"b":101,"k":284,"e":-1.69},{"b":101,"k":353,"e":-1.65},
{"b":102,"k":0,"e":-1.75},{"b":102,"k":58,"e":-1.73},{"b":102,"k":98,"e":-1.76},{"b":102,"k":190,"e":-1.77},{"b":102,"k":284,"e":-1.73},{"b":102,"k":353,"e":-1.75},
{"b":103,"k":0,"e":-1.84},{"b":103,"k":58,"e":-1.87},{"b":103,"k":98,"e":-1.84},{"b":103,"k":190,"e":-1.82},{"b":103,"k":284,"e":-1.87},{"b":103,"k":353,"e":-1.83},
{"b":104,"k":0,"e":-1.93},{"b":104,"k":58,"e":-1.91},{"b":104,"k":98,"e":-1.94},{"b":104,"k":190,"e":-1.95},{"b":104,"k":284,"e":-1.91},{"b":104,"k":353,"e":-1.93},
{"b":105,"k":0,"e":-2.02},{"b":105,"k":58,"e":-2.05},{"b":105,"k":98,"e":-2.02},{"b":105,"k":190,"e":-2.0},{"b":105,"k":284,"e":-2.05},{"b":105,"k":353,"e":-2.01},
{"b":106,"k":0,"e":-2.11},{"b":106,"k":58,"e":-2.09},{"b":106,"k":98,"e":-2.12},{"b":106,"k":190,"e":-2.13},{"b":106,"k":284,"e":-2.09},{"b":106,"k":353,"e":-2.11},
{"b":107,"k":0,"e":-2.2},{"b":107,"k":58,"e":-2.23},{"b":107,"k":98,"e":-2.2},{"b":107,"k":190,"e":-2.18},{"b":107,"k":284,"e":-2.23},{"b":107,"k":353,"e":-2.19},
{"b":108,"k":0,"e":-2.29},{"b":108,"k":58,"e":-2.27},{"b":108,"k":98,"e":-2.3},{"b":108,"k":190,"e":-2.31},{"b":108,"k":284,"e":-2.27},{"b":108,"k":353,"e":-2.29},
{"b":109,"k":0,"e":-2.39},{"b":109,"k":58,"e":-2.42},{"b":109,"k":98,"e":-2.39},{"b":109,"k":190,"e":-2.37},{"b":109,"k":284,"e":-2.42},{"b":109,"k":353,"e":-2.38},
{"b":110,"k":0,"e":-2.48},{"b":110,"k":58,"e":-2.46},{"b":110,"k":98,"e":-2.49},{"b":110,"k":190,"e":-2.5},{"b":110,"k":284,"e":-2.46},{"b":110,"k":353,"e":-2.48},
{"b":111,"k":0,"e":-2.57},{"b":111,"k":58,"e":-2.6},{"b":111,"k":98,"e":-2.57},{"b":111,"k":190,"e":-2.55},{"b":111,"k":284,"e":-2.6},{"b":111,"k":353,"e":-2.56},
{"b":112,"k":0,"e":-2.66},{"b":112,"k":58,"e":-2.64},{"b":112,"k":98,"e":-2.67},{"b":112,"k":190,"e":-2.68},{"b":112,"k":284,"e":-2.64},{"b":112,"k":353,"e":-2.66},
{"b":113,"k":0,"e":-2.75},{"b":113,"k":58,"e":-2.78},{"b":113,"k":98,"e":-2.75},{"b":113,"k":190,"e":-2.73},{"b":113,"k":284,"e":-2.78},{"b":113,"k":353,"e":-2.74},
{"b":114,"k":0,"e":-2.84},{"b":114,"k":58,"e":-2.82},{"b":114,"k":98,"e":-2.85},{"b":114,"k":190,"e":-2.86},{"b":114,"k":284,"e":-2.82},{"b":114,"k":353,"e":-2.84},
{"b":115,"k":0,"e":-2.93},{"b":115,"k":58,"e":-2.96},{"b":115,"k":98,"e":-2.93},{"b":115,"k":190,"e":-2.91},{"b":115,"k":284,"e":-2.96},{"b":115,"k":353,"e":-2.92},
{"b":116,"k":0,"e":-3.02},{"b":116,"k":58,"e":-3.0},{"b":116,"k":98,"e":-3.03},{"b":116,"k":190,"e":-3.04},{"b":116,"k":284,"e":-3.0},{"b":116,"k":353,"e":-3.02},
{"b":117,"k":0,"e":-3.11},{"b":117,"k":58,"e":-3.14},{"b":117,"k":98,"e":-3.11},{"b":117,"k":190,"e":-3.09},{"b":117,"k":284,"e":-3.14},{"b":117,"k":353,"e":-3.1},
{"b":118,"k":0,"e":-3.2},{"b":118,"k":58,"e":-3.18},{"b":118,"k":98,"e":-3.21},{"b":118,"k":190,"e":-3.22},{"b":118,"k":284,"e":-3.18},{"b":118,"k":353,"e":-3.2},
{"b":119,"k":0,"e":-3.3},{"b":119,"k":58,"e":-3.32},{"b":119,"k":98,"e":-3.3},{"b":119,"k":190,"e":-3.26},{"b":119,"k":284,"e":-3.32},{"b":119,"k":353,"e":-3.28},
{"b":120,"k":0,"e":-3.39},{"b":120,"k":58,"e":-3.4},{"b":120,"k":98,"e":-3.4},{"b":120,"k":190,"e":-3.34},{"b":120,"k":284,"e":-3.41},{"b":120,"k":353,"e":-3.36}
]},
"hconcat":[
{"width":373,"height":473,"view":{"stroke":null},"data":{"name":"a"},
"layer":[
{"transform":[{"filter":"datum.b < 100"}],"mark":{"type":"line","interpolate":"monotone","strokeWidth":2.3},
"encoding":{"x":{"field":"k","type":"quantitative","scale":{"domain":[-10,363.5],"nice":false,"zero":false},"axis":{"orient":"bottom","values":[0,34,58,98,190,262,284,353],"labelExpr":"datum.value == 34 || datum.value == 262 ? 'X' : datum.value == 58 || datum.value == 284 ? 'M' : datum.value == 190 || datum.value == 353 ? 'R' : 'Γ'","title":"K_points","titleFont":"Lato","titleFontSize":25,"tickSize":7,"labelFontSize":20,"labelPadding":2,"titlePadding":4}},
"y":{"field":"e","type":"quantitative","scale":{"domain":[-3.92,5.83],"nice":false,"zero":false},"axis":{"orient":"left","values":[-2,0,2,4],"labelExpr":"replace(datum.label, '−', '-')","title":"B a n d s  ( e V )","titleFont":"Liberation Sans, Arial, sans-serif","titleFontSize":28,"tickSize":6,"labelPadding":2,"titlePadding":-3}},
"detail":{"field":"b"},
"color":{"datum":"Pure_Cs₃Bi₂I₉","scale":{"range":["#ff0000"]},"legend":{"orient":"none","legendX":239,"legendY":198,"title":null,"symbolType":"stroke","symbolSize":625,"symbolStrokeWidth":2.3,"labelFont":"Lato","labelFontSize":15,"labelFontWeight":"bold","labelColor":"black","strokeColor":"black","fillColor":"white","padding":7,"labelLimit":0}}}},
{"transform":[{"filter":"datum.b >= 100"}],"mark":{"type":"line","interpolate":"monotone","strokeWidth":4.2},
"encoding":{"x":{"field":"k","type":"quantitative","axis":{"orient":"bottom","values":[17,46,78,144,226,273,318],"labels":false,"title":null,"tickSize":4}},
"y":{"field":"e","type":"quantitative","axis":{"orient":"left","values":[-3,-1,1,3,5],"labels":false,"title":null,"tickSize":3}},
"detail":{"field":"b"},"color":{"datum":"Pure_Cs₃Bi₂I₉"}}},
{"data":{"values":[{}]},"mark":{"type":"rule","color":"black","strokeWidth":1.3,"strokeDash":[8,3,2,3]},"encoding":{"y":{"datum":0,"axis":null}}},
{"data":{"values":[{}]},"mark":{"type":"rect","fill":"white","fillOpacity":0,"stroke":"black","strokeWidth":2},"encoding":{"x":{"datum":-10,"axis":null},"x2":{"datum":363.5},"y":{"datum":-3.92,"axis":null},"y2":{"datum":5.54}}},
{"data":{"values":[{}]},"mark":{"type":"text","text":"(a)","fontSize":18,"align":"left","baseline":"top"},"encoding":{"x":{"datum":-5,"axis":null},"y":{"datum":5.32,"axis":null}}},
{"data":{"values":[{}]},"mark":{"type":"text","text":"E","fontSize":17,"align":"left","baseline":"alphabetic"},"encoding":{"x":{"datum":73,"axis":null},"y":{"datum":0.2,"axis":null}}},
{"data":{"values":[{}]},"mark":{"type":"text","text":"g","fontSize":12,"align":"left","baseline":"alphabetic","dx":11,"dy":4},"encoding":{"x":{"datum":73,"axis":null},"y":{"datum":0.2,"axis":null}}},
{"data":{"values":[{}]},"mark":{"type":"text","text":"= 3.3 eV","fontSize":17,"align":"left","baseline":"alphabetic","dx":20},"encoding":{"x":{"datum":73,"axis":null},"y":{"datum":0.2,"axis":null}}}
],
"resolve":{"axis":{"x":"independent","y":"independent"}}},
{"width":388,"height":469,"data":{"name":"b"},
"layer":[
{"transform":[{"filter":"datum.b > 10 && datum.b < 100"}],"mark":{"type":"line","interpolate":"monotone","strokeWidth":2.3},
"encoding":{"x":{"field":"k","type":"quantitative","scale":{"domain":[-10,363.5],"nice":false,"zero":false},"axis":{"orient":"bottom","values":[0,34,58,98,190,262,284,353],"labelExpr":"datum.value == 34 || datum.value == 262 ? 'X' : datum.value == 58 || datum.value == 284 ? 'M' : datum.value == 190 || datum.value == 353 ? 'R' : 'Γ'","title":"K_points","titleFont":"Lato","titleFontSize":25,"tickSize":7,"labelFontSize":20,"labelPadding":2,"titlePadding":4}},
"y":{"field":"e","type":"quantitative","scale":{"domain":[-3.88,5.5],"nice":false,"zero":false},"axis":{"orient":"left","values":[-2,0,2,4],"labelExpr":"replace(datum.label, '−', '-')","title":"B a n d s  ( e V )","titleFont":"Liberation Sans, Arial, sans-serif","titleFontSize":28,"tickSize":6,"labelPadding":2,"titlePadding":-3}},
"detail":{"field":"b"},
"color":{"datum":"0.25 mol% Si_Cs₃Bi₂I₉","scale":{"range":["#ff0000"]},"legend":{"orient":"none","legendX":199,"legendY":189,"title":null,"symbolType":"stroke","symbolSize":900,"symbolStrokeWidth":2.3,"labelFont":"Lato","labelFontSize":15,"labelFontWeight":"bold","labelColor":"black","strokeColor":"black","fillColor":"white","padding":7,"labelLimit":0}}}},
{"transform":[{"filter":"datum.b <= 10"}],"mark":{"type":"line","interpolate":"monotone","strokeWidth":3.4},
"encoding":{"x":{"field":"k","type":"quantitative","axis":null},"y":{"field":"e","type":"quantitative","axis":null},"detail":{"field":"b"},"color":{"datum":"0.25 mol% Si_Cs₃Bi₂I₉"}}},
{"transform":[{"filter":"datum.b >= 100"}],"mark":{"type":"line","interpolate":"monotone","strokeWidth":5.2},
"encoding":{"x":{"field":"k","type":"quantitative","axis":{"orient":"bottom","values":[17,46,78,144,226,273,318],"labels":false,"title":null,"tickSize":4}},
"y":{"field":"e","type":"quantitative","axis":{"orient":"left","values":[-3,-1,1,3,5],"labels":false,"title":null,"tickSize":3}},
"detail":{"field":"b"},"color":{"datum":"0.25 mol% Si_Cs₃Bi₂I₉"}}},
{"data":{"values":[{}]},"mark":{"type":"rule","color":"black","strokeWidth":1.3,"strokeDash":[8,3,2,3]},"encoding":{"y":{"datum":0,"axis":null}}},
{"data":{"values":[{}]},"mark":{"type":"text","text":"(b)","fontSize":18,"align":"left","baseline":"top"},"encoding":{"x":{"datum":-2,"axis":null},"y":{"datum":5.26,"axis":null}}},
{"data":{"values":[{}]},"mark":{"type":"text","text":"E","fontSize":17,"align":"left","baseline":"alphabetic"},"encoding":{"x":{"datum":74,"axis":null},"y":{"datum":0.26,"axis":null}}},
{"data":{"values":[{}]},"mark":{"type":"text","text":"g","fontSize":12,"align":"left","baseline":"alphabetic","dx":11,"dy":4},"encoding":{"x":{"datum":74,"axis":null},"y":{"datum":0.26,"axis":null}}},
{"data":{"values":[{}]},"mark":{"type":"text","text":"= 2.7 eV","fontSize":17,"align":"left","baseline":"alphabetic","dx":20},"encoding":{"x":{"datum":74,"axis":null},"y":{"datum":0.26,"axis":null}}},
{"data":{"values":[{}]},"mark":{"type":"text","text":"Si state","fontSize":17,"align":"center","baseline":"alphabetic"},"encoding":{"x":{"datum":147,"axis":null},"y":{"datum":-1.0,"axis":null}}}
],
"resolve":{"axis":{"x":"independent","y":"independent"}}},
{"width":360,"height":471,"data":{"name":"c"},
"layer":[
{"transform":[{"filter":"datum.b > 10 && datum.b < 100"}],"mark":{"type":"line","interpolate":"monotone","strokeWidth":2.3},
"encoding":{"x":{"field":"k","type":"quantitative","scale":{"domain":[-10,363.5],"nice":false,"zero":false},"axis":{"orient":"bottom","values":[0,34,58,98,190,262,284,353],"labelExpr":"datum.value == 34 || datum.value == 262 ? 'X' : datum.value == 58 || datum.value == 284 ? 'M' : datum.value == 190 || datum.value == 353 ? 'R' : 'Γ'","title":"K_points","titleFont":"Lato","titleFontSize":25,"tickSize":7,"labelFontSize":20,"labelPadding":2,"titlePadding":4}},
"y":{"field":"e","type":"quantitative","scale":{"domain":[-3.93,5.51],"nice":false,"zero":false},"axis":{"orient":"left","values":[-2,0,2,4],"labelExpr":"replace(datum.label, '−', '-')","title":"B a n d s  ( e V )","titleFont":"Liberation Sans, Arial, sans-serif","titleFontSize":28,"tickSize":6,"labelPadding":2,"titlePadding":-3}},
"detail":{"field":"b"},
"color":{"datum":"0.50 mol% Si_Cs₃Bi₂I₉","scale":{"range":["#ff0000"]},"legend":{"orient":"none","legendX":184,"legendY":198,"title":null,"symbolType":"stroke","symbolSize":900,"symbolStrokeWidth":2.3,"labelFont":"Lato","labelFontSize":15,"labelFontWeight":"bold","labelColor":"black","strokeColor":"black","fillColor":"white","padding":7,"labelLimit":0}}}},
{"transform":[{"filter":"datum.b <= 10"}],"mark":{"type":"line","interpolate":"monotone","strokeWidth":3.4},
"encoding":{"x":{"field":"k","type":"quantitative","axis":null},"y":{"field":"e","type":"quantitative","axis":null},"detail":{"field":"b"},"color":{"datum":"0.50 mol% Si_Cs₃Bi₂I₉"}}},
{"transform":[{"filter":"datum.b >= 100"}],"mark":{"type":"line","interpolate":"monotone","strokeWidth":5.2},
"encoding":{"x":{"field":"k","type":"quantitative","axis":{"orient":"bottom","values":[17,46,78,144,226,273,318],"labels":false,"title":null,"tickSize":4}},
"y":{"field":"e","type":"quantitative","axis":{"orient":"left","values":[-3,-1,1,3,5],"labels":false,"title":null,"tickSize":3}},
"detail":{"field":"b"},"color":{"datum":"0.50 mol% Si_Cs₃Bi₂I₉"}}},
{"data":{"values":[{}]},"mark":{"type":"rule","color":"black","strokeWidth":1.3,"strokeDash":[8,3,2,3]},"encoding":{"y":{"datum":0,"axis":null}}},
{"data":{"values":[{}]},"mark":{"type":"text","text":"(c)","fontSize":18,"align":"left","baseline":"top"},"encoding":{"x":{"datum":-1,"axis":null},"y":{"datum":5.22,"axis":null}}},
{"data":{"values":[{}]},"mark":{"type":"text","text":"E","fontSize":17,"align":"left","baseline":"alphabetic"},"encoding":{"x":{"datum":73,"axis":null},"y":{"datum":0.23,"axis":null}}},
{"data":{"values":[{}]},"mark":{"type":"text","text":"g","fontSize":12,"align":"left","baseline":"alphabetic","dx":11,"dy":4},"encoding":{"x":{"datum":73,"axis":null},"y":{"datum":0.23,"axis":null}}},
{"data":{"values":[{}]},"mark":{"type":"text","text":"= 2.51 eV","fontSize":17,"align":"left","baseline":"alphabetic","dx":20},"encoding":{"x":{"datum":73,"axis":null},"y":{"datum":0.23,"axis":null}}},
{"data":{"values":[{}]},"mark":{"type":"text","text":"Si state","fontSize":17,"align":"center","baseline":"alphabetic"},"encoding":{"x":{"datum":147,"axis":null},"y":{"datum":-1.02,"axis":null}}}
],
"resolve":{"axis":{"x":"independent","y":"independent"}}}
]}
